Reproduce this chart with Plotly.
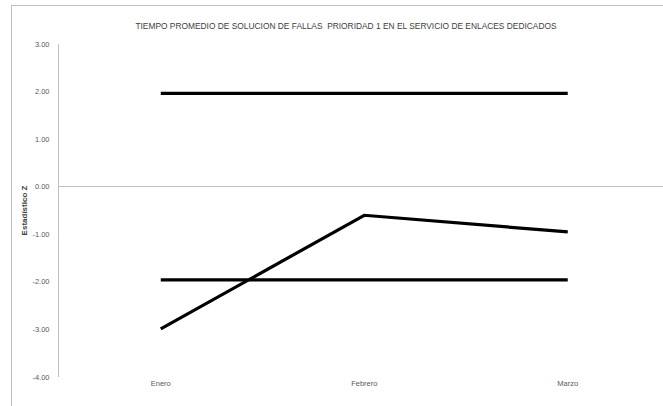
import plotly.graph_objects as go

categories = ["Enero", "Febrero", "Marzo"]
z_values = [-2.99, -0.60, -0.95]
upper_limit = [1.96, 1.96, 1.96]
lower_limit = [-1.96, -1.96, -1.96]
y_tick_vals = [3, 2, 1, 0, -1, -2, -3, -4]
y_tick_text = ["3.00", "2.00", "1.00", "0.00", "-1.00", "-2.00", "-3.00", "-4.00"]

W, H = 663, 406
# outer chart-area frame starts at (12, 6); inner plot area 59..663 x 44..377
ML, MT = 12, 6
PL, PT, PB = 59, 44, 377
AW, AH = W - ML, H - MT

fig = go.Figure()
line_style = dict(color="black", width=3.2)
for ys in (upper_limit, lower_limit, z_values):
    fig.add_trace(go.Scatter(x=categories, y=ys, mode="lines", line=line_style,
                             showlegend=False, hoverinfo="skip"))
# empty trace that carries the frame axes
fig.add_trace(go.Scatter(x=[], y=[], xaxis="x2", yaxis="y2", showlegend=False,
                         hoverinfo="skip"))

font_family = "Liberation Sans Narrow, Arial Narrow, Liberation Sans, sans-serif"
gray = "#595959"
frame = "#bfbfbf"

fig.update_layout(
    width=W, height=H,
    margin=dict(l=ML, r=0, t=MT, b=0, pad=0, autoexpand=False),
    paper_bgcolor="white", plot_bgcolor="rgba(0,0,0,0)",
    font=dict(family=font_family, size=7.5, color=gray),
    title=dict(text="TIEMPO PROMEDIO DE SOLUCION DE FALLAS  PRIORIDAD 1 EN EL SERVICIO DE ENLACES DEDICADOS",
               x=346 / W, xanchor="center", y=1 - 26 / H, yanchor="middle",
               font=dict(family=font_family, size=8.4, color="#404040")),
    xaxis=dict(type="category", domain=[(PL - ML) / AW, 1], automargin=False,
               range=[-0.5, -0.5 + (W - PL) / 203.5],
               showgrid=False, showline=False, zeroline=False, ticks="",
               tickfont=dict(size=7.5, color=gray), fixedrange=True),
    yaxis=dict(domain=[(H - PB) / AH, (H - PT) / AH], automargin=False,
               range=[-4, 3], tickvals=y_tick_vals, ticktext=y_tick_text,
               showgrid=False, showline=True, linecolor=frame, linewidth=1,
               zeroline=True, zerolinecolor=frame, zerolinewidth=1,
               ticks="", ticklabelstandoff=7, fixedrange=True,
               tickfont=dict(size=7.5, color=gray),
               title=dict(text="<b>Estadístico Z</b>", standoff=3,
                          font=dict(size=8, color="#404040"))),
    xaxis2=dict(domain=[0, 1], anchor="y2", side="top", range=[0, 1], automargin=False,
                showline=True, linecolor=frame, linewidth=1, showgrid=False,
                zeroline=False, showticklabels=False, ticks="", fixedrange=True),
    yaxis2=dict(domain=[0, 1], anchor="x2", side="left", range=[0, 1], automargin=False,
                showline=True, linecolor=frame, linewidth=1, showgrid=False,
                zeroline=False, showticklabels=False, ticks="", fixedrange=True),
)

fig.write_html("out.html", config={"displayModeBar": False},
               post_script="document.body.style.margin='0';document.body.style.overflow='hidden';")
